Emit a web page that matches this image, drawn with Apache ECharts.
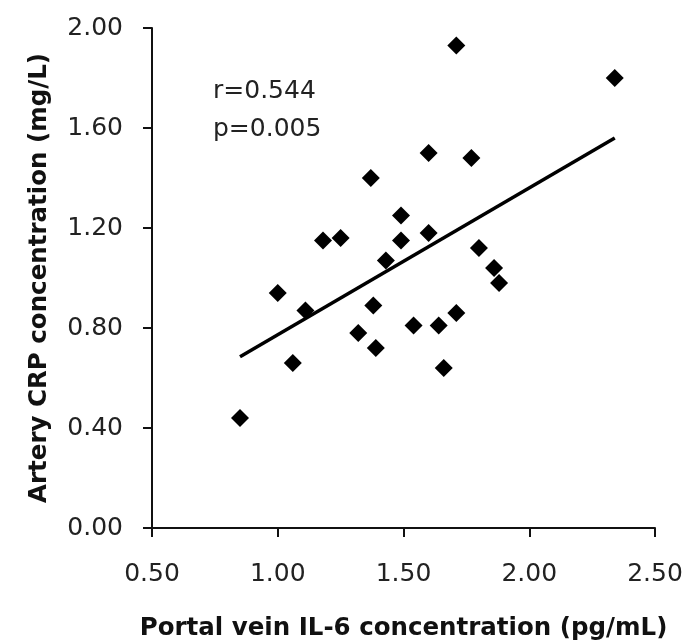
<!DOCTYPE html>
<html>
<head>
<meta charset="utf-8">
<script src="https://cdn.jsdelivr.net/npm/echarts@6/dist/echarts.min.js"></script>
<style>
html,body{margin:0;padding:0;background:#fff;}
#chart{width:686px;height:643px;}
</style>
</head>
<body>
<div id="chart"></div>
<script>
var il6 = [0.85, 1.06, 1.00, 1.11, 1.18, 1.25, 1.37, 1.49, 1.49, 1.43, 1.38, 1.32, 1.39, 1.54, 1.64, 1.71, 1.66, 1.60, 1.80, 1.86, 1.88, 1.60, 1.77, 1.71, 2.34];
var crp = [0.44, 0.66, 0.94, 0.87, 1.15, 1.16, 1.40, 1.25, 1.15, 1.07, 0.89, 0.78, 0.72, 0.81, 0.81, 0.86, 0.64, 1.18, 1.12, 1.04, 0.98, 1.50, 1.48, 1.93, 1.80];
var trendX = [0.85, 2.34];
var trendY = [0.685, 1.56];
var xTicks = {min: 0.5, max: 2.5, interval: 0.5};
var yTicks = {min: 0, max: 2.0, interval: 0.4};
var statLines = ["r=0.544", "p=0.005"];
var xTitle = "Portal vein IL-6 concentration (pg/mL)";
var yTitle = "Artery CRP concentration (mg/L)";

var FONT = "DejaVu Sans";
var chart = echarts.init(document.getElementById('chart'), null, {renderer: 'canvas'});
var pts = il6.map(function (x, i) { return [x, crp[i]]; });
var line = trendX.map(function (x, i) { return [x, trendY[i]]; });

var axisCommon = {
  axisLine: {show: true, onZero: false, lineStyle: {color: '#111', width: 2}},
  axisTick: {show: true, inside: false, length: 9, lineStyle: {color: '#111', width: 2}},
  splitLine: {show: false},
  axisLabel: {color: '#222', fontSize: 25, fontFamily: FONT,
    formatter: function (v) { return v.toFixed(2); }},
  nameTextStyle: {color: '#111', fontSize: 24.5, fontWeight: 'bold', fontFamily: FONT}
};

chart.setOption({
  animation: false,
  backgroundColor: '#fff',
  grid: {left: 152, right: 31, top: 28, bottom: 115, containLabel: false, outerBoundsMode: 'none'},
  xAxis: Object.assign({}, axisCommon, {
    type: 'value', min: xTicks.min, max: xTicks.max, interval: xTicks.interval,
    name: xTitle, nameLocation: 'middle', nameGap: 88,
    axisLabel: Object.assign({}, axisCommon.axisLabel, {margin: 34})
  }),
  yAxis: Object.assign({}, axisCommon, {
    type: 'value', min: yTicks.min, max: yTicks.max, interval: yTicks.interval,
    name: yTitle, nameLocation: 'middle', nameGap: 100, nameRotate: 90,
    axisLabel: Object.assign({}, axisCommon.axisLabel, {margin: 29})
  }),
  graphic: statLines.map(function (t, i) {
    return {type: 'text', left: 265 - 52, top: 79 + i * 38,
      style: {text: t, fill: '#222', font: '25px "' + FONT + '"'}};
  }),
  series: [
    {type: 'scatter', data: pts, symbol: 'diamond', symbolSize: 18,
      itemStyle: {color: '#000', opacity: 1}, z: 3},
    {type: 'line', data: line, symbol: 'none', lineStyle: {color: '#000', width: 3.5}, z: 2}
  ]
});
</script>
</body>
</html>
